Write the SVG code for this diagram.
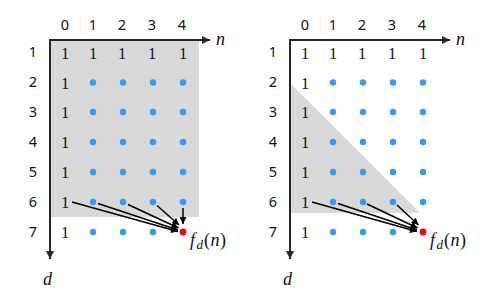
<svg xmlns="http://www.w3.org/2000/svg" width="500" height="300" viewBox="0 0 500 300">
<defs>
<style>
.hdr{font-family:"Noto Sans","Open Sans",sans-serif;font-size:14.5px;fill:#111;text-anchor:middle}
.one{font-family:"Liberation Serif",serif;font-size:16.5px;fill:#111;text-anchor:middle}
.math{font-family:"Liberation Serif",serif;font-style:italic;font-size:18px;fill:#111}
.up{font-family:"Liberation Serif",serif;font-size:18px;fill:#111}
.axis{stroke:#262626;stroke-width:2;fill:none}
.arr{stroke:#000;stroke-width:1.5;fill:none;marker-end:url(#ah)}
.dot{fill:#3399ff}
.red{fill:#ff0000}
.shade{fill:#d9d9d9}
</style>
<marker id="ah" viewBox="0 0 10 10" refX="10" refY="5" markerWidth="7" markerHeight="7" markerUnits="userSpaceOnUse" orient="auto">
<path d="M0,0 L10,5 L0,10 z" fill="#000"/>
</marker>
<marker id="axh" viewBox="0 0 10 10" refX="10" refY="5" markerWidth="9" markerHeight="8" markerUnits="userSpaceOnUse" orient="auto">
<path d="M0,0 L10,5 L0,10 z" fill="#262626"/>
</marker>
<g id="grid">
<text class="hdr" x="65" y="30">0</text>
<text class="hdr" x="93" y="30">1</text>
<text class="hdr" x="122" y="30">2</text>
<text class="hdr" x="152" y="30">3</text>
<text class="hdr" x="182" y="30">4</text>
<text class="hdr" x="33" y="57">1</text>
<text class="hdr" x="33" y="87">2</text>
<text class="hdr" x="33" y="117">3</text>
<text class="hdr" x="33" y="147">4</text>
<text class="hdr" x="33" y="177">5</text>
<text class="hdr" x="33" y="207">6</text>
<text class="hdr" x="33" y="237">7</text>
<text class="one" x="65" y="58.5">1</text>
<text class="one" x="93" y="58.5">1</text>
<text class="one" x="122" y="58.5">1</text>
<text class="one" x="152" y="58.5">1</text>
<text class="one" x="183" y="58.5">1</text>
<text class="one" x="65" y="88.5">1</text>
<text class="one" x="65" y="118">1</text>
<text class="one" x="65" y="148">1</text>
<text class="one" x="65" y="178">1</text>
<text class="one" x="65" y="208">1</text>
<text class="one" x="65" y="238">1</text>
<g class="dot">
<circle cx="93" cy="82.5" r="3.2"/><circle cx="123" cy="82.5" r="3.2"/><circle cx="153" cy="82.5" r="3.2"/><circle cx="183" cy="82.5" r="3.2"/>
<circle cx="93" cy="112" r="3.2"/><circle cx="123" cy="112" r="3.2"/><circle cx="153" cy="112" r="3.2"/><circle cx="183" cy="112" r="3.2"/>
<circle cx="93" cy="142" r="3.2"/><circle cx="123" cy="142" r="3.2"/><circle cx="153" cy="142" r="3.2"/><circle cx="183" cy="142" r="3.2"/>
<circle cx="93" cy="172" r="3.2"/><circle cx="123" cy="172" r="3.2"/><circle cx="153" cy="172" r="3.2"/><circle cx="183" cy="172" r="3.2"/>
<circle cx="93" cy="202" r="3.2"/><circle cx="123" cy="202" r="3.2"/><circle cx="153" cy="202" r="3.2"/><circle cx="183" cy="202" r="3.2"/>
<circle cx="93" cy="232" r="3.2"/><circle cx="123" cy="232" r="3.2"/><circle cx="153" cy="232" r="3.2"/>
</g>
<circle class="red" cx="183" cy="232" r="3.4"/>
<path class="axis" d="M50,40 L210,40" marker-end="url(#axh)"/>
<path class="axis" d="M50,39 L50,259" marker-end="url(#axh)"/>
<text class="math" x="216" y="45">n</text>
<text class="math" x="43" y="285">d</text>
<text x="190" y="245.5"><tspan class="math">f</tspan><tspan class="math" style="font-size:13px" dx="1.5" dy="3">d</tspan><tspan class="up" dx="1" dy="-3">(</tspan><tspan class="math" dx="0.5">n</tspan><tspan class="up" dx="0.5">)</tspan></text>
</g>
</defs>
<rect width="500" height="300" fill="#fff"/>
<g id="left-panel">
<rect id="left-shade" class="shade" x="51" y="41" width="148" height="176"/>
<use href="#grid"/>
</g>
<g id="right-panel">
<polygon id="right-shade" class="shade" points="291,84 420,213 291,213"/>
<use href="#grid" x="240"/>
</g>
<g id="connectors">
<path class="arr" d="M72,202 L178,231.5"/>
<path class="arr" d="M98,203.5 L178,230"/>
<path class="arr" d="M128,204.5 L178.5,228"/>
<path class="arr" d="M157,205.5 L179,225"/>
<path class="arr" d="M183,208 L183,224"/>
<path class="arr" d="M312,202 L417,231.5"/>
<path class="arr" d="M338,203.5 L417,230"/>
<path class="arr" d="M367,204 L417.5,228"/>
<path class="arr" d="M397,205 L418.5,225"/>
</g>
</svg>
